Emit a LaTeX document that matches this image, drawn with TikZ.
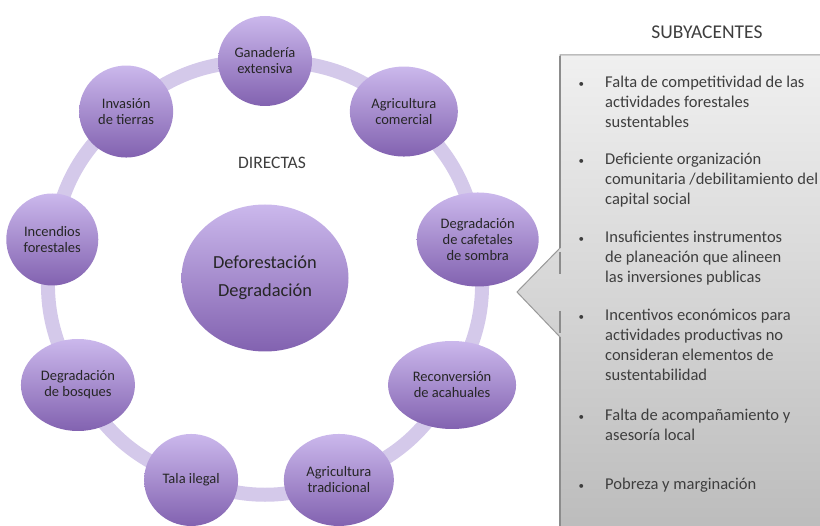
\documentclass[tikz,border=0pt]{standalone}
\usepackage{fontspec}
\setmainfont{Carlito}
\usetikzlibrary{shapes.geometric, backgrounds}

\definecolor{lilaclaro}{RGB}{203,184,236}
\definecolor{lilaoscuro}{RGB}{130,98,176}
\definecolor{lilaanillo}{RGB}{212,201,234}
\definecolor{grisclaro}{RGB}{240,240,240}
\definecolor{grisoscuro}{RGB}{188,188,188}
\definecolor{gristexto}{RGB}{62,62,62}

\newcommand{\vineta}{\llap{{\fontsize{11}{11}\selectfont\textbullet}\hspace{21pt}}}

\begin{document}
\begin{tikzpicture}[x = 1pt, y = -1pt,
		causa/.style = {ellipse, top color = lilaclaro, bottom color = lilaoscuro, inner sep = 0, align = center, text = black!85, font = \fontsize{14.5}{16}\selectfont},
		anillo/.style = {line width = 14pt, draw = lilaanillo},
		globo/.style = {top color = grisclaro, bottom color = grisoscuro, draw = black!40, line width = 1pt},
		bordeizq/.style = {draw = black!45, line width = 2pt},
		titulo/.style = {text = gristexto, font = \fontsize{17.5}{20}\selectfont},
		item/.style = {anchor = north west, align = left, inner sep = 0, text = gristexto, font = \fontsize{16.5}{20}\selectfont}]
	\useasboundingbox (0, 0) rectangle (820, 526);

	% globo de causas subyacentes
	\draw[globo] (560, 55) -- (830, 55) -- (830, 530) -- (560, 530) -- (560, 337) -- (517, 292) -- (560, 248) -- cycle;
	\draw[bordeizq] (560, 56) -- (560, 248);
	\draw[bordeizq] (560, 252) -- (560, 274);
	\draw[bordeizq] (560, 311) -- (560, 333);
	\draw[bordeizq] (560, 337) -- (560, 530);

	\foreach \nombre/\ang/\ancho/\alto/\texto in {
			gan/90/94/90/{Ganadería\\extensiva},
			agc/50/108/90/{Agricultura\\comercial},
			caf/10/122/94/{Degradación\\de cafetales\\de sombra},
			rec/-30/128/88/{Reconversión\\de acahuales},
			agt/-70/110/92/{Agricultura\\tradicional},
			tal/-110/94/92/{Tala ilegal},
			bos/-150/114/92/{Degradación\\de bosques},
			inc/170/92/92/{Incendios\\forestales},
			inv/130/94/92/{Invasión\\de tierras}} {
		\node[causa, minimum width = \ancho pt, minimum height = \alto pt] (\nombre) at ({265 + 216 * cos(\ang)}, {277 - 216 * sin(\ang)}) {\texto};
	}

	\node[causa, minimum width = 167pt, minimum height = 147pt, font = \fontsize{18.4}{28}\selectfont] (centro) at (265, 278) {Deforestación\\Degradación};

	\node[titulo] (directas) at (272, 163) {DIRECTAS};
	\node[titulo, font = \fontsize{19.5}{22}\selectfont] (subyacentes) at (707, 32) {SUBYACENTES};

	\begin{pgfonlayer}{background}
		\draw[anillo] (gan.center) to[bend left = 20] (agc.center);
		\draw[anillo] (agc.center) to[bend left = 20] (caf.center);
		\draw[anillo] (caf.center) to[bend left = 20] (rec.center);
		\draw[anillo] (rec.center) to[bend left = 20] (agt.center);
		\draw[anillo] (agt.center) to[bend left = 20] (tal.center);
		\draw[anillo] (tal.center) to[bend left = 20] (bos.center);
		\draw[anillo] (bos.center) to[bend left = 20] (inc.center);
		\draw[anillo] (inc.center) to[bend left = 20] (inv.center);
		\draw[anillo] (inv.center) to[bend left = 20] (gan.center);
	\end{pgfonlayer}

	\node[item] (s1) at (605, 76) {\vineta Falta de competitividad de las\\actividades forestales\\sustentables};
	\node[item] (s2) at (605, 153) {\vineta Deficiente organización\\comunitaria /debilitamiento del\\capital social};
	\node[item] (s3) at (605, 231) {\vineta Insuficientes instrumentos\\de planeación que alineen\\las inversiones publicas};
	\node[item] (s4) at (605, 309) {\vineta Incentivos económicos para\\actividades productivas no\\consideran elementos de\\sustentabilidad};
	\node[item] (s5) at (605, 409) {\vineta Falta de acompañamiento y\\asesoría local};
	\node[item] (s6) at (605, 478) {\vineta Pobreza y marginación};
\end{tikzpicture}
\end{document}
